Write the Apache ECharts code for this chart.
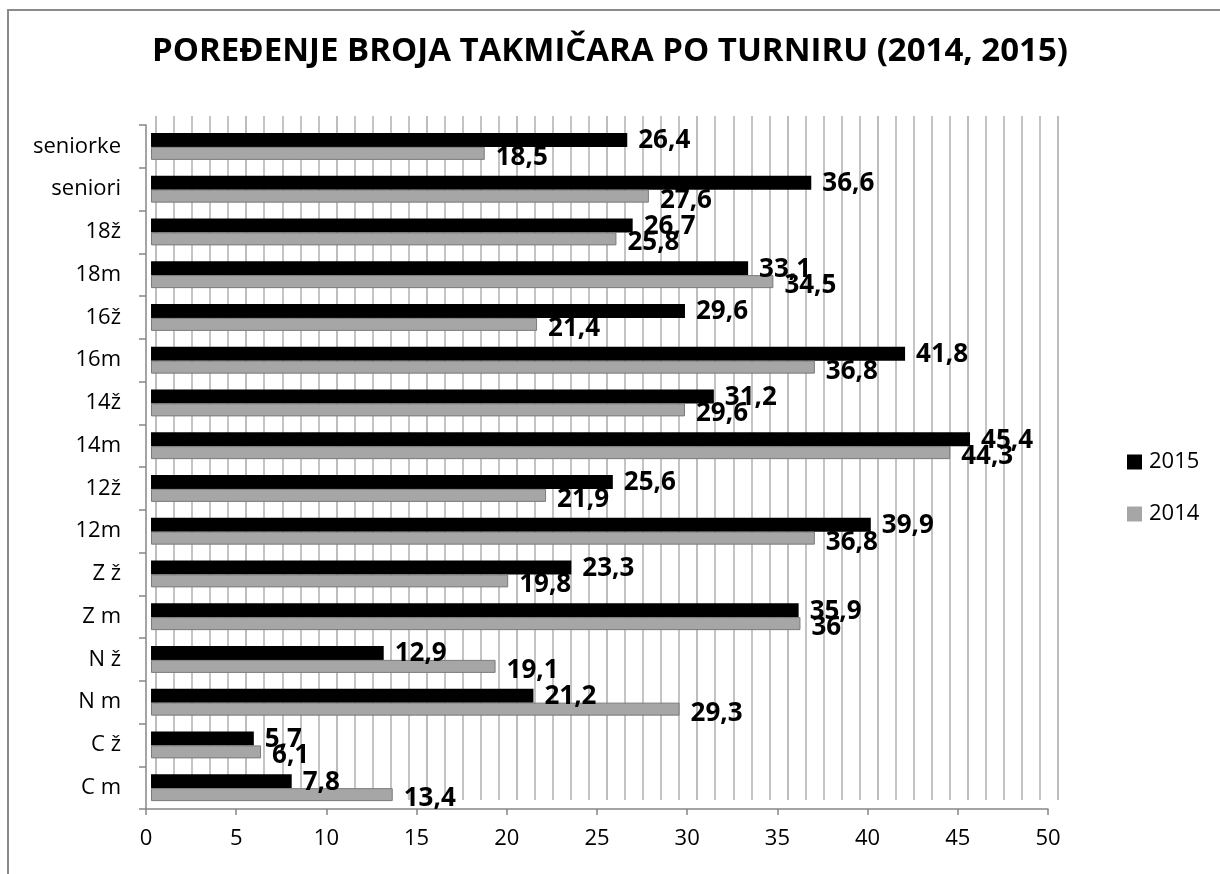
<!DOCTYPE html>
<html>
<head>
<meta charset="utf-8">
<script src="https://cdn.jsdelivr.net/npm/echarts@6/dist/echarts.min.js"></script>
<style>
html,body{margin:0;padding:0;background:#fff;}
#chart{width:1220px;height:874px;}
</style>
</head>
<body>
<div id="chart"></div>
<script>
var categories = ['C m','C ž','N m','N ž','Z m','Z ž','12m','12ž','14m','14ž','16m','16ž','18m','18ž','seniori','seniorke'];
var values2015 = [7.8, 5.7, 21.2, 12.9, 35.9, 23.3, 39.9, 25.6, 45.4, 31.2, 41.8, 29.6, 33.1, 26.7, 36.6, 26.4];
var values2014 = [13.4, 6.1, 29.3, 19.1, 36, 19.8, 36.8, 21.9, 44.3, 29.6, 36.8, 21.4, 34.5, 25.8, 27.6, 18.5];
var xTicks = {min: 0, max: 50, interval: 5};
var titleText = 'POREĐENJE BROJA TAKMIČARA PO TURNIRU (2014, 2015)';

var FONT = '"Open Sans", "DejaVu Sans", sans-serif';
var chart = echarts.init(document.getElementById('chart'), null, {renderer: 'canvas'});
function fmt(p){ return String(p.value).replace('.', ','); }

var option = {
  backgroundColor: '#ffffff',
  animation: false,
  title: {
    text: titleText,
    left: 'center',
    top: 30,
    textStyle: {fontFamily: FONT, fontWeight: 'bold', fontSize: 33, color: '#000'}
  },
  legend: {
    orient: 'vertical',
    left: 1122,
    top: 446,
    itemWidth: 15,
    itemHeight: 15,
    itemGap: 30,
    icon: 'rect',
    itemStyle: {borderWidth: 0},
    data: ['2015', '2014'],
    textStyle: {fontFamily: FONT, fontSize: 22, color: '#000', padding: [0,0,0,2]}
  },
  graphic: [{
    type: 'rect',
    shape: {x: 8, y: 10, width: 1400, height: 1000},
    style: {fill: 'none', stroke: '#8a8a8a', lineWidth: 2},
    silent: true
  }],
  grid: [
    {left: 146, top: 125, width: 902, height: 684},
    {left: 156, top: 116, width: 902, height: 684},
    {left: 151, top: 125, width: 902, height: 684}
  ],
  xAxis: [
    {
      gridIndex: 0, type: 'value', min: xTicks.min, max: xTicks.max, interval: xTicks.interval,
      axisLine: {show: true, lineStyle: {color: '#868686', width: 1.5}},
      axisTick: {show: true, length: 6, lineStyle: {color: '#868686', width: 1.5}},
      axisLabel: {fontFamily: FONT, fontSize: 22, color: '#000', margin: 19},
      splitLine: {show: false}
    },
    {
      gridIndex: 1, type: 'value', min: xTicks.min, max: xTicks.max, interval: xTicks.interval,
      axisLine: {show: false}, axisTick: {show: false}, axisLabel: {show: false},
      splitLine: {show: true, lineStyle: {color: '#bdbdbd', width: 2}},
      minorTick: {show: false, splitNumber: 5},
      minorSplitLine: {show: true, lineStyle: {color: '#c4c4c4', width: 2}}
    },
    {
      gridIndex: 2, type: 'value', min: xTicks.min, max: xTicks.max, interval: xTicks.interval,
      show: false
    }
  ],
  yAxis: [
    {
      gridIndex: 0, type: 'category', data: categories,
      axisLine: {show: true, lineStyle: {color: '#868686', width: 1.5}},
      axisTick: {show: true, length: 7, lineStyle: {color: '#868686', width: 1.5}},
      axisLabel: {fontFamily: FONT, fontSize: 22, color: '#000', margin: 25},
      splitLine: {show: false}
    },
    {
      gridIndex: 1, type: 'category', data: categories, show: false
    },
    {
      gridIndex: 2, type: 'category', data: categories, show: false
    }
  ],
  series: [
    {
      name: '2015', type: 'bar', xAxisIndex: 2, yAxisIndex: 2,
      data: values2015, barWidth: 14, barGap: '0%',
      itemStyle: {color: '#000000'},
      label: {show: true, position: 'right', distance: 11, offset: [0, 1], formatter: fmt,
        fontFamily: FONT, fontWeight: 'bold', fontSize: 26, color: '#000'}
    },
    {
      name: '2014', type: 'bar', xAxisIndex: 2, yAxisIndex: 2,
      data: values2014, barWidth: 13, barGap: '0%',
      itemStyle: {color: '#a6a6a6', borderColor: '#7a7a7a', borderWidth: 1},
      label: {show: true, position: 'right', distance: 11, offset: [0, 4], formatter: fmt,
        fontFamily: FONT, fontWeight: 'bold', fontSize: 26, color: '#000'}
    }
  ]
};
chart.setOption(option);
</script>
</body>
</html>
